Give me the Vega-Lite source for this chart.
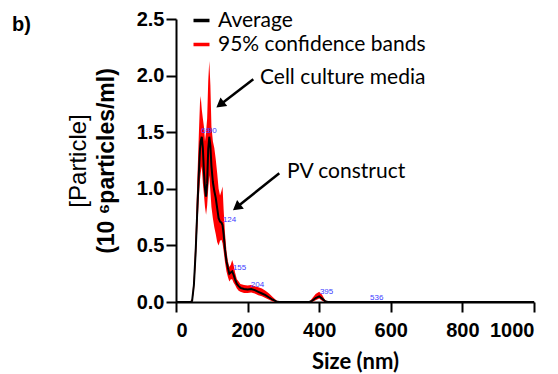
{
  "$schema": "https://vega.github.io/schema/vega-lite/v6.json",
  "width": 358,
  "height": 283,
  "autosize": {"type": "none"},
  "padding": {"left": 176, "top": 19, "right": 24, "bottom": 72},
  "background": "white",
  "config": {
    "view": {"stroke": null, "fill": null},
    "font": "Liberation Sans",
    "axis": {
      "domain": true, "domainColor": "black", "domainWidth": 2, "domainOpacity": 1,
      "ticks": true, "tickColor": "black", "tickWidth": 2, "tickSize": 10, "zindex": 1,
      "labelFont": "Liberation Sans", "labelFontSize": 20, "labelFontWeight": "bold", "labelColor": "black",
      "grid": false, "titleColor": "black"
    }
  },
  "datasets": {
    "curve": [
      {"s": 0, "avg": 0, "lo": 0, "hi": 0},
      {"s": 40, "avg": 0, "lo": 0, "hi": 0},
      {"s": 45, "avg": 0.01, "lo": 0, "hi": 0.03},
      {"s": 50, "avg": 0.15, "lo": 0.09, "hi": 0.24},
      {"s": 55, "avg": 0.45, "lo": 0.33, "hi": 0.62},
      {"s": 60, "avg": 0.85, "lo": 0.68, "hi": 1.12},
      {"s": 64, "avg": 1.15, "lo": 0.93, "hi": 1.5},
      {"s": 67, "avg": 1.35, "lo": 1.08, "hi": 1.76},
      {"s": 69, "avg": 1.42, "lo": 1.14, "hi": 1.82},
      {"s": 72, "avg": 1.46, "lo": 1.2, "hi": 1.7},
      {"s": 75, "avg": 1.36, "lo": 1.05, "hi": 1.62},
      {"s": 78, "avg": 1.15, "lo": 0.95, "hi": 1.55},
      {"s": 81, "avg": 1.0, "lo": 0.84, "hi": 1.42},
      {"s": 84, "avg": 0.93, "lo": 0.77, "hi": 1.5},
      {"s": 87, "avg": 1.05, "lo": 0.85, "hi": 1.62},
      {"s": 90, "avg": 1.35, "lo": 1.0, "hi": 1.95},
      {"s": 93, "avg": 1.46, "lo": 1.12, "hi": 2.13},
      {"s": 96, "avg": 1.38, "lo": 0.98, "hi": 1.92},
      {"s": 99, "avg": 1.2, "lo": 0.84, "hi": 1.55},
      {"s": 103, "avg": 1.06, "lo": 0.74, "hi": 1.42},
      {"s": 107, "avg": 0.98, "lo": 0.66, "hi": 1.36},
      {"s": 111, "avg": 0.92, "lo": 0.6, "hi": 1.26},
      {"s": 115, "avg": 0.83, "lo": 0.53, "hi": 1.14},
      {"s": 119, "avg": 0.74, "lo": 0.5, "hi": 1.0},
      {"s": 123, "avg": 0.71, "lo": 0.54, "hi": 0.94},
      {"s": 127, "avg": 0.7, "lo": 0.55, "hi": 0.98},
      {"s": 130, "avg": 0.68, "lo": 0.52, "hi": 1.02},
      {"s": 133, "avg": 0.6, "lo": 0.45, "hi": 0.82},
      {"s": 137, "avg": 0.46, "lo": 0.35, "hi": 0.6},
      {"s": 141, "avg": 0.36, "lo": 0.27, "hi": 0.45},
      {"s": 145, "avg": 0.3, "lo": 0.22, "hi": 0.36},
      {"s": 149, "avg": 0.25, "lo": 0.18, "hi": 0.31},
      {"s": 153, "avg": 0.26, "lo": 0.2, "hi": 0.33},
      {"s": 157, "avg": 0.27, "lo": 0.2, "hi": 0.37},
      {"s": 161, "avg": 0.24, "lo": 0.17, "hi": 0.33},
      {"s": 165, "avg": 0.2, "lo": 0.15, "hi": 0.26},
      {"s": 170, "avg": 0.16, "lo": 0.12, "hi": 0.2},
      {"s": 175, "avg": 0.14, "lo": 0.1, "hi": 0.18},
      {"s": 180, "avg": 0.125, "lo": 0.09, "hi": 0.16},
      {"s": 190, "avg": 0.115, "lo": 0.08, "hi": 0.15},
      {"s": 200, "avg": 0.11, "lo": 0.08, "hi": 0.145},
      {"s": 210, "avg": 0.115, "lo": 0.085, "hi": 0.15},
      {"s": 220, "avg": 0.105, "lo": 0.075, "hi": 0.14},
      {"s": 230, "avg": 0.09, "lo": 0.06, "hi": 0.13},
      {"s": 240, "avg": 0.075, "lo": 0.05, "hi": 0.12},
      {"s": 250, "avg": 0.06, "lo": 0.035, "hi": 0.1},
      {"s": 260, "avg": 0.04, "lo": 0.02, "hi": 0.075},
      {"s": 270, "avg": 0.02, "lo": 0.005, "hi": 0.045},
      {"s": 280, "avg": 0.005, "lo": 0, "hi": 0.015},
      {"s": 288, "avg": 0, "lo": 0, "hi": 0},
      {"s": 372, "avg": 0, "lo": 0, "hi": 0},
      {"s": 380, "avg": 0.01, "lo": 0, "hi": 0.03},
      {"s": 390, "avg": 0.035, "lo": 0.015, "hi": 0.07},
      {"s": 400, "avg": 0.05, "lo": 0.03, "hi": 0.09},
      {"s": 408, "avg": 0.03, "lo": 0.01, "hi": 0.065},
      {"s": 416, "avg": 0.008, "lo": 0, "hi": 0.02},
      {"s": 424, "avg": 0, "lo": 0, "hi": 0},
      {"s": 1000, "avg": 0, "lo": 0, "hi": 0}
    ],
    "peaks": [
      {"x": 70, "y": 1.51, "t": "69"},
      {"x": 89, "y": 1.51, "t": "90"},
      {"x": 131, "y": 0.72, "t": "124"},
      {"x": 159, "y": 0.3, "t": "155"},
      {"x": 209, "y": 0.15, "t": "204"},
      {"x": 402, "y": 0.09, "t": "395"},
      {"x": 542, "y": 0.035, "t": "536"}
    ],
    "notes": [
      {"x": 234.6, "y": 1.98, "t": "Cell culture media"},
      {"x": 310, "y": 1.15, "t": "PV construct"}
    ],
    "arrows": [
      {"x": 215.9, "y": 1.967, "x2": 123.2, "y2": 1.743},
      {"x": 288.5, "y": 1.137, "x2": 169.6, "y2": 0.837}
    ],
    "side": [
      {"x": -271, "y": 1.246, "t": "[Particle]"}
    ],
    "panel": [
      {"x": -458, "y": 2.45, "t": "b)"}
    ]
  },
  "layer": [
    {
      "data": {"name": "curve"},
      "mark": {"type": "area"},
      "encoding": {
        "x": {"field": "s", "type": "quantitative", "scale": {"domain": [0, 1000], "nice": false},
          "axis": {"title": "Size (nm)", "values": [0, 200, 400, 600, 800, 1000], "format": "d",
            "labelPadding": 8, "titleFont": "Lato", "titleFontSize": 22, "titleFontWeight": "bold", "titlePadding": 11}},
        "y": {"field": "lo", "type": "quantitative", "scale": {"domain": [0, 2.5], "nice": false},
          "axis": {"title": "(10 \u2076particles/ml)", "values": [0, 0.5, 1, 1.5, 2, 2.5], "format": ".1f",
            "labelPadding": 2, "titleFont": "Liberation Sans", "titleFontSize": 23, "titleFontWeight": "bold", "titlePadding": 18}},
        "y2": {"field": "hi"},
        "color": {"datum": "95% confidence bands", "type": "nominal",
          "scale": {"domain": ["Average", "95% confidence bands"], "range": ["black", "#ff0000"]},
          "legend": {"title": null, "orient": "none", "legendX": 15, "legendY": -9, "padding": 0,
            "symbolType": "stroke", "symbolSize": 256, "symbolStrokeWidth": 3.5, "labelFont": "Lato", "labelFontSize": 21,
            "labelColor": "black", "labelOffset": 6, "rowPadding": 2, "labelLimit": 0,
            "encode": {"symbols": {"update": {"stroke": {"scale": "color", "field": "value"}, "strokeWidth": {"value": 3.5}}}}}}
      }
    },
    {
      "data": {"name": "curve"},
      "mark": {"type": "line", "strokeWidth": 2},
      "encoding": {
        "x": {"field": "s", "type": "quantitative"},
        "y": {"field": "avg", "type": "quantitative"},
        "color": {"datum": "Average", "type": "nominal"}
      }
    },
    {
      "mark": {"type": "rule", "strokeWidth": 2, "color": "black"},
      "encoding": {
        "x": {"datum": 0, "type": "quantitative"},
        "y": {"datum": 0, "type": "quantitative"},
        "y2": {"datum": 2.5}
      }
    },
    {
      "mark": {"type": "rule", "strokeWidth": 2, "color": "black"},
      "encoding": {
        "x": {"datum": 0, "type": "quantitative"},
        "x2": {"datum": 1000},
        "y": {"datum": 0, "type": "quantitative"}
      }
    },
    {
      "data": {"name": "peaks"},
      "mark": {"type": "text", "align": "left", "baseline": "middle", "fontSize": 8, "color": "#3c3cff", "font": "Liberation Sans"},
      "encoding": {
        "x": {"field": "x", "type": "quantitative"},
        "y": {"field": "y", "type": "quantitative"},
        "text": {"field": "t"}
      }
    },
    {
      "data": {"name": "notes"},
      "mark": {"type": "text", "align": "left", "baseline": "middle", "fontSize": 21, "color": "black", "font": "Lato"},
      "encoding": {
        "x": {"field": "x", "type": "quantitative"},
        "y": {"field": "y", "type": "quantitative"},
        "text": {"field": "t"}
      }
    },
    {
      "data": {"name": "side"},
      "mark": {"type": "text", "align": "center", "baseline": "middle", "angle": 270, "fontSize": 24, "color": "black", "font": "Liberation Sans"},
      "encoding": {
        "x": {"field": "x", "type": "quantitative"},
        "y": {"field": "y", "type": "quantitative"},
        "text": {"field": "t"}
      }
    },
    {
      "data": {"name": "panel"},
      "mark": {"type": "text", "align": "left", "baseline": "middle", "fontSize": 20, "fontWeight": "bold", "color": "black", "font": "Liberation Sans"},
      "encoding": {
        "x": {"field": "x", "type": "quantitative"},
        "y": {"field": "y", "type": "quantitative"},
        "text": {"field": "t"}
      }
    },
    {
      "data": {"name": "arrows"},
      "mark": {"type": "rule", "strokeWidth": 2.5, "color": "black"},
      "encoding": {
        "x": {"field": "x", "type": "quantitative"},
        "y": {"field": "y", "type": "quantitative"},
        "x2": {"field": "x2"},
        "y2": {"field": "y2"}
      }
    },
    {
      "data": {"name": "arrows"},
      "mark": {"type": "point", "shape": "triangle-up", "filled": true, "size": 120, "angle": 232, "color": "black", "opacity": 1},
      "encoding": {
        "x": {"field": "x2", "type": "quantitative"},
        "y": {"field": "y2", "type": "quantitative"}
      }
    }
  ]
}
